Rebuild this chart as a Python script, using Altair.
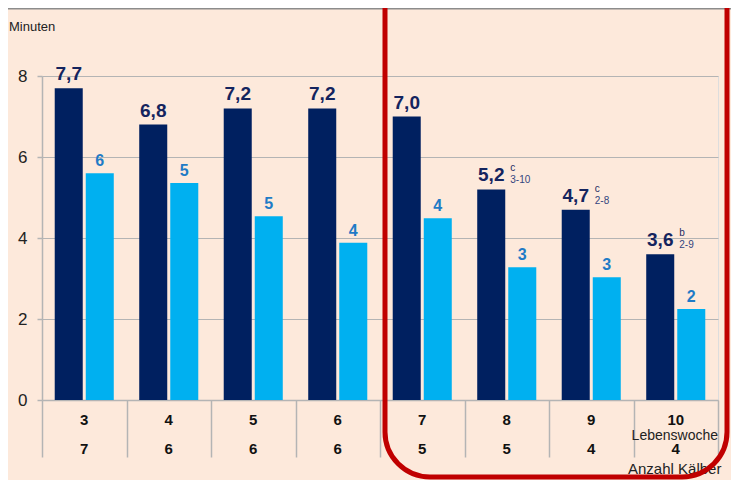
import altair as alt
import pandas as pd

# ---- data ----
weeks = ["3", "4", "5", "6", "7", "8", "9", "10"]          # Lebenswoche
calves = ["7", "6", "6", "6", "5", "5", "4", "4"]          # Anzahl Kälber
dark_values = [7.7, 6.8, 7.2, 7.2, 7.0, 5.2, 4.7, 3.6]
dark_labels = ["7,7", "6,8", "7,2", "7,2", "7,0", "5,2", "4,7", "3,6"]
light_values = [5.6, 5.36, 4.54, 3.88, 4.49, 3.28, 3.03, 2.25]
light_labels = ["6", "5", "5", "4", "4", "3", "3", "2"]
sig_letters = ["", "", "", "", "", "c", "c", "b"]
sig_ranges = ["", "", "", "", "", "3-10", "2-8", "2-9"]

rows = []
for i, w in enumerate(weeks):
    rows.append(dict(week=w, series="a", value=dark_values[i], label=dark_labels[i],
                     letter=sig_letters[i], rng=sig_ranges[i], calves=calves[i]))
    rows.append(dict(week=w, series="b", value=light_values[i], label=light_labels[i],
                     letter="", rng="", calves=calves[i]))
df = pd.DataFrame(rows)

W, H = 676, 324
FONT = "Liberation Sans"
GRID = "#b4b4b4"

xscale = alt.Scale(domain=weeks, paddingInner=0, paddingOuter=0)
oscale = alt.Scale(domain=["a", "b"], paddingInner=0.097, paddingOuter=0.41)
yscale = alt.Scale(domain=[0, 8], nice=False, zero=True)

x_enc = alt.X("week:N", scale=xscale, sort=weeks,
              axis=alt.Axis(title=None, labels=False, ticks=True, tickBand="extent",
                            tickSize=57, tickColor=GRID, tickWidth=1.5,
                            domainColor=GRID, domainWidth=1.5))
o_enc = alt.XOffset("series:N", scale=oscale)
y_enc = alt.Y("value:Q", scale=yscale,
              axis=alt.Axis(values=[0, 2, 4, 6, 8], title=None, grid=True, gridColor=GRID,
                            gridWidth=1.2, tickColor=GRID, tickSize=5, tickWidth=1.5,
                            labelFontSize=17, labelColor="#222222", labelPadding=10,
                            labelFont=FONT, domainColor=GRID, domainWidth=1.5))

base = alt.Chart(df)

bars = base.mark_bar().encode(
    x=x_enc, xOffset=o_enc, y=y_enc,
    color=alt.Color("series:N", scale=alt.Scale(domain=["a", "b"], range=["#002060", "#00b0f0"]),
                    legend=None),
)

dark_lbl = base.transform_filter("datum.series == 'a'").mark_text(
    fontSize=19, fontWeight="bold", color="#14245e", baseline="alphabetic", dy=-8, font=FONT
).encode(x=x_enc, xOffset=o_enc, y=y_enc, text="label:N")

light_lbl = base.transform_filter("datum.series == 'b'").mark_text(
    fontSize=16, fontWeight="bold", color="#1f7bc6", baseline="alphabetic", dy=-7, font=FONT
).encode(x=x_enc, xOffset=o_enc, y=y_enc, text="label:N")

sig_letter = base.transform_filter("datum.letter != ''").mark_text(
    fontSize=10, color="#1d2b63", align="left", baseline="alphabetic", dx=19, dy=-18, font=FONT
).encode(x=x_enc, xOffset=o_enc, y=y_enc, text="letter:N")

sig_range = base.transform_filter("datum.rng != ''").mark_text(
    fontSize=10, color="#33457f", align="left", baseline="alphabetic", dx=19, dy=-6, font=FONT
).encode(x=x_enc, xOffset=o_enc, y=y_enc, text="rng:N")

row_week = base.transform_filter("datum.series == 'a'").mark_text(
    fontSize=15, fontWeight="bold", color="#111111", baseline="alphabetic", font=FONT
).encode(x=x_enc, y=alt.value(349), text="week:N")

row_calves = base.transform_filter("datum.series == 'a'").mark_text(
    fontSize=15, fontWeight="bold", color="#111111", baseline="alphabetic", font=FONT
).encode(x=x_enc, y=alt.value(378), text="calves:N")

one = alt.Chart(pd.DataFrame({"k": [0]}))

lebenswoche = one.mark_text(text="Lebenswoche", fontSize=14, color="#222222", align="right",
                            baseline="alphabetic", font=FONT).encode(
    x=alt.value(676), y=alt.value(364))

kaelber = one.mark_text(text="Anzahl Kälber", fontSize=15, color="#222222", align="left",
                        baseline="alphabetic", font=FONT).encode(
    x=alt.value(586), y=alt.value(398))

minuten = one.mark_text(text="Minuten", fontSize=13, color="#222222", align="left",
                        baseline="alphabetic", font=FONT).encode(
    x=alt.value(-33), y=alt.value(-45))

top_rule = one.mark_rule(color="#8c8c8c", strokeWidth=2).encode(
    x=alt.value(-34), x2=alt.value(689), y=alt.value(-67.5))

red_box = one.mark_rect(fillOpacity=0, stroke="#c00000", strokeWidth=5, cornerRadius=45).encode(
    x=alt.value(343), x2=alt.value(685), y=alt.value(-200), y2=alt.value(401))

chart = alt.layer(
    bars, dark_lbl, light_lbl, sig_letter, sig_range, row_week, row_calves,
    lebenswoche, kaelber, minuten, top_rule, red_box
).properties(
    width=W, height=H,
    autosize=alt.AutoSizeParams(type="none"),
    padding={"left": 34, "top": 68, "right": 13, "bottom": 80},
    background="#fde9db",
).configure_view(
    fill="white", stroke=None
).configure(font=FONT)

chart.save("out.html", embed_options={"renderer": "svg", "actions": False})
